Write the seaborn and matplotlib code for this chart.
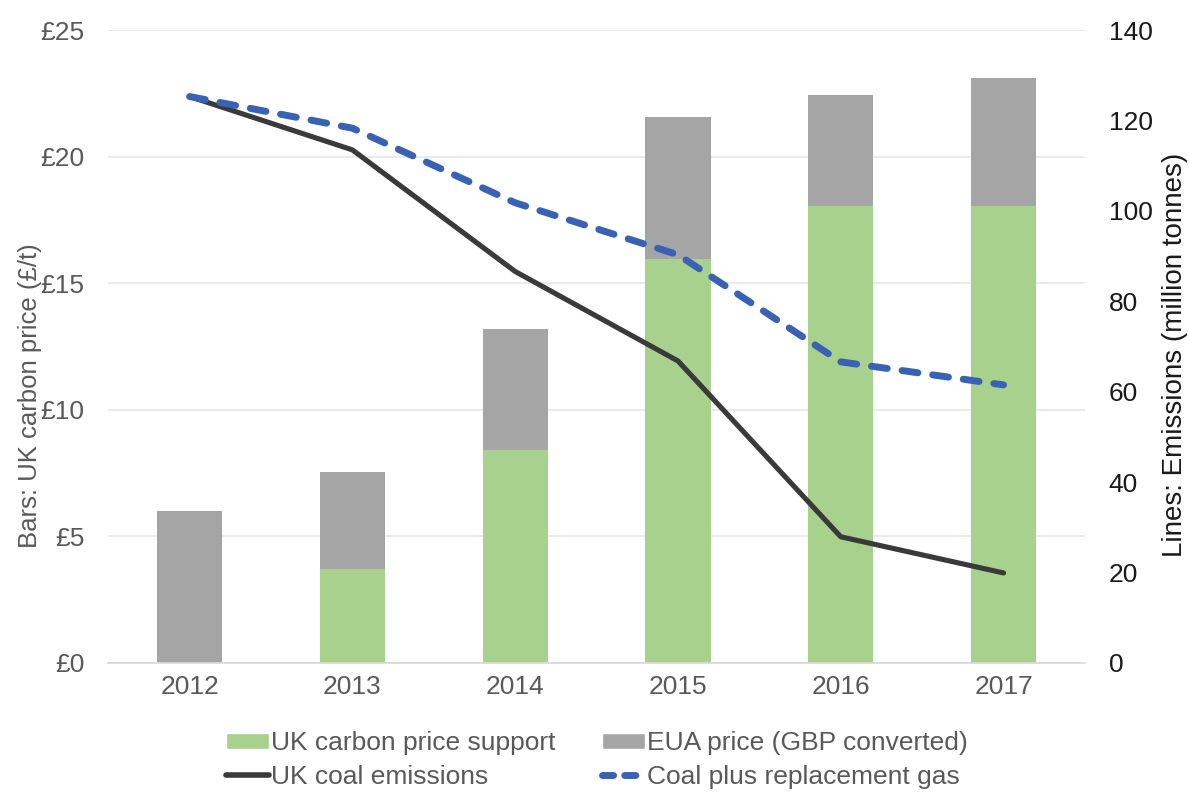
import pandas as pd
import matplotlib.pyplot as plt
import seaborn as sns
import numpy as np
from matplotlib.patches import Patch
from matplotlib.lines import Line2D

# ======= data =======
years = ['2012', '2013', '2014', '2015', '2016', '2017']
cps = [0.0, 3.7, 8.4, 15.95, 18.05, 18.05]          # UK carbon price support (£/t)
eua = [6.0, 3.85, 4.8, 5.6, 4.4, 5.05]             # EUA price (GBP converted)
coal = [125.3, 113.5, 86.6, 66.8, 27.9, 19.9]       # UK coal emissions (Mt)
coal_gas = [125.3, 118.3, 101.8, 90.3, 66.6, 61.5]  # Coal plus replacement gas (Mt)

df = pd.DataFrame({'year': years, 'cps': cps, 'eua': eua})
df['total'] = df['cps'] + df['eua']

# ======= style =======
sns.set_theme(style="white")
plt.rcParams['font.family'] = ['Liberation Sans', 'DejaVu Sans']

GREEN = '#a9d18e'
GREY = '#a5a5a5'
DARK = '#3a3a3a'
BLUE = '#3a62b4'
TXT = '#595959'
FS = 19

fig = plt.figure(figsize=(11.89, 7.92), dpi=100)
ax = fig.add_axes([0.091, 0.163, 0.8215, 0.799])

# stacked bars: total in grey, support in green over it
sns.barplot(data=df, x='year', y='total', color=GREY, width=0.4, ax=ax,
            saturation=1, edgecolor='none')
sns.barplot(data=df, x='year', y='cps', color=GREEN, width=0.4, ax=ax,
            saturation=1, edgecolor='none')

ax.set_ylim(0, 25)
ax.set_yticks(range(0, 26, 5))
ax.set_yticklabels([f'£{v}' for v in range(0, 26, 5)])
ax.set_xlim(-0.5, 5.5)
ax.yaxis.grid(True, color='#e6e6e6', linewidth=1.2)
ax.set_axisbelow(True)
for s in ['top', 'left', 'right']:
    ax.spines[s].set_visible(False)
ax.spines['bottom'].set_color('#d9d9d9')
ax.tick_params(axis='both', length=0, labelsize=FS, colors=TXT)
ax.tick_params(axis='y', pad=17)
ax.tick_params(axis='x', pad=9)
ax.set_xlabel('')
ax.set_ylabel('Bars: UK carbon price (£/t)', fontsize=18.5, color=TXT)
ax.yaxis.set_label_coords(-0.0676, 0.422)

# lines on the secondary axis
ax2 = ax.twinx()
x = np.arange(len(years))
sns.lineplot(x=x, y=coal, color=DARK, linewidth=3.7, ax=ax2)
sns.lineplot(x=x, y=coal_gas, color=BLUE, linewidth=5, ax=ax2,
             linestyle=(0, (2.3, 2.15)), dash_capstyle='round')
ax2.set_ylim(0, 140)
ax2.set_yticks(range(0, 141, 20))
for s in ['top', 'left', 'right', 'bottom']:
    ax2.spines[s].set_visible(False)
ax2.tick_params(axis='y', length=0, labelsize=FS, colors='#1a1a1a', pad=17)
ax2.set_ylabel('Lines: Emissions (million tonnes)', fontsize=20, color='#1a1a1a')
ax2.yaxis.set_label_coords(1.079, 0.487)
ax2.grid(False)

# legend
handles = [
    Patch(facecolor=GREEN, label='UK carbon price support'),
    Line2D([0], [0], color=DARK, lw=4, label='UK coal emissions'),
    Patch(facecolor=GREY, label='EUA price (GBP converted)'),
    Line2D([0], [0], color=BLUE, lw=5, linestyle=(0, (1.6, 1.6)),
           dash_capstyle='round', label='Coal plus replacement gas'),
]
fig.legend(handles=handles, ncol=2, loc='upper center', bbox_to_anchor=(0.502, 0.077),
           frameon=False, fontsize=FS, handlelength=1.63, handleheight=0.55,
           handletextpad=0.08, columnspacing=1.74, labelspacing=0.38,
           borderaxespad=0, borderpad=0, labelcolor=TXT)

plt.savefig('out.png', dpi=100)
